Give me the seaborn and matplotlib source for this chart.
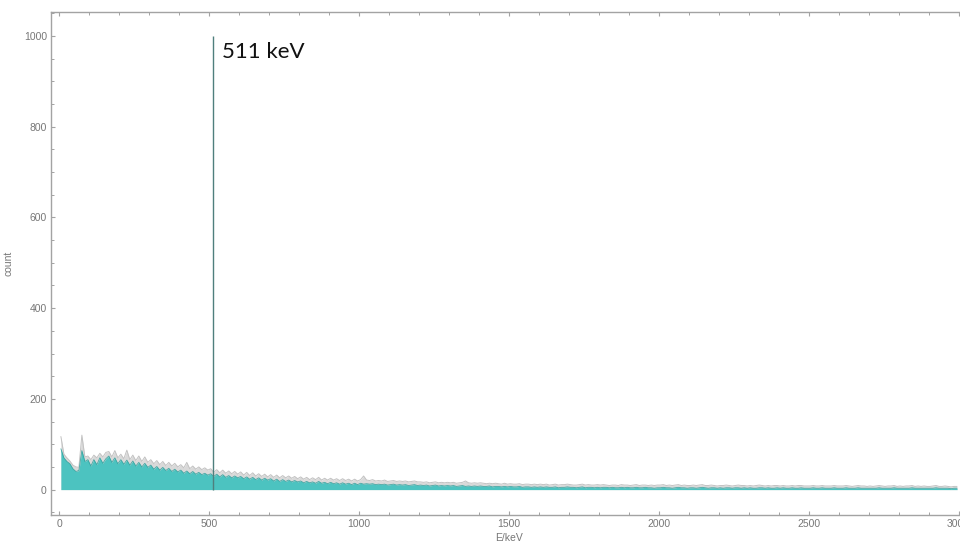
import numpy as np
import pandas as pd
import matplotlib
matplotlib.use("Agg")
import matplotlib.pyplot as plt
import seaborn as sns

# Spectrum binned in 10 keV channels, starting at 0 keV
bin_width = 10

# net counts (filled area)
net_counts = [
    90, 70, 62, 57, 46, 40, 42, 86, 62, 66,
    52, 66, 55, 70, 58, 68, 74, 60, 70, 57,
    66, 56, 65, 54, 63, 52, 60, 50, 58, 49,
    54, 45, 51, 43, 49, 42, 47, 40, 45, 39,
    43, 36, 41, 35, 40, 34, 38, 33, 36, 32,
    35, 29, 34, 28, 33, 27, 31, 26, 30, 26,
    29, 24, 28, 23, 27, 22, 26, 21, 25, 21,
    24, 19, 23, 18, 22, 18, 21, 17, 20, 17,
    19, 15, 18, 15, 17, 14, 18, 14, 16, 13,
    16, 13, 15, 12, 15, 12, 14, 11, 14, 11,
    14, 12, 13, 12, 13, 11, 12, 11, 12, 10,
    11, 12, 10, 11, 10, 11, 9, 10, 11, 9,
    10, 9, 10, 8, 9, 10, 8, 9, 8, 9,
    8, 9, 7, 8, 9, 7, 8, 7, 8, 7,
    8, 7, 7, 8, 6, 7, 7, 6, 7, 6,
    7, 6, 6, 7, 5, 6, 6, 5, 6, 5,
    6, 5, 6, 5, 5, 6, 4, 5, 5, 6,
    5, 5, 4, 5, 6, 4, 5, 5, 4, 5,
    4, 5, 5, 4, 5, 4, 4, 5, 4, 5,
    4, 4, 5, 4, 4, 5, 4, 4, 3, 4,
    4, 5, 4, 4, 3, 4, 5, 4, 4, 3,
    4, 4, 3, 4, 5, 4, 3, 4, 4, 3,
    4, 3, 4, 4, 3, 4, 4, 3, 4, 3,
    4, 3, 3, 4, 4, 3, 4, 3, 3, 4,
    3, 4, 3, 3, 4, 3, 3, 4, 3, 3,
    3, 4, 3, 3, 4, 3, 3, 3, 4, 3,
    3, 3, 4, 3, 3, 3, 4, 3, 3, 3,
    3, 3, 3, 4, 3, 3, 3, 3, 4, 3,
    3, 3, 3, 3, 4, 3, 3, 3, 3, 3,
    3, 3, 4, 3, 3, 3, 3, 2, 3, 3,
]

# raw counts (light grey envelope)
raw_counts = [
    117, 78, 70, 63, 54, 50, 49, 120, 72, 74,
    66, 76, 70, 80, 72, 82, 84, 72, 86, 70,
    78, 68, 87, 66, 76, 64, 74, 62, 72, 60,
    66, 57, 64, 55, 62, 53, 60, 52, 58, 50,
    55, 48, 60, 46, 52, 45, 50, 44, 48, 43,
    46, 38, 44, 37, 43, 36, 41, 35, 40, 34,
    39, 32, 38, 31, 37, 30, 35, 29, 34, 28,
    33, 27, 32, 26, 31, 26, 30, 25, 29, 24,
    28, 23, 27, 22, 26, 22, 27, 21, 25, 21,
    25, 21, 24, 20, 24, 20, 23, 19, 23, 19,
    22, 30, 21, 20, 22, 19, 20, 19, 21, 18,
    19, 20, 18, 19, 18, 19, 17, 18, 19, 17,
    17, 16, 17, 15, 16, 17, 15, 16, 15, 16,
    15, 16, 14, 15, 16, 19, 15, 14, 15, 14,
    15, 14, 13, 14, 13, 14, 13, 12, 14, 12,
    13, 12, 12, 13, 11, 12, 12, 11, 12, 11,
    12, 11, 12, 10, 11, 12, 10, 11, 11, 12,
    11, 10, 10, 11, 12, 10, 11, 10, 10, 11,
    10, 11, 10, 9, 10, 10, 9, 11, 10, 10,
    9, 10, 11, 9, 10, 10, 9, 10, 9, 10,
    10, 11, 9, 10, 9, 10, 11, 9, 10, 9,
    9, 10, 9, 10, 11, 9, 9, 10, 9, 8,
    9, 9, 10, 9, 8, 9, 10, 9, 9, 8,
    9, 8, 9, 10, 9, 8, 9, 8, 9, 9,
    8, 9, 8, 8, 9, 8, 9, 9, 8, 8,
    8, 9, 8, 8, 9, 8, 8, 8, 9, 8,
    8, 8, 9, 8, 7, 8, 9, 8, 8, 7,
    8, 7, 8, 9, 8, 7, 8, 8, 9, 7,
    8, 7, 8, 8, 9, 7, 8, 7, 8, 7,
    7, 8, 9, 7, 7, 8, 7, 6, 7, 7,
]

# annihilation line
peak_energy = 511
peak_count = 1000

x_ticks = [0, 500, 1000, 1500, 2000, 2500, 3000]
y_ticks = [0, 200, 400, 600, 800, 1000]

# channel centres
energy = np.arange(len(net_counts)) * bin_width + bin_width / 2
spec = pd.DataFrame({"E": energy, "net": net_counts, "raw": raw_counts})

sns.set_theme(style="white")
plt.rcParams["font.family"] = ["Liberation Sans", "DejaVu Sans"]

fig = plt.figure(figsize=(9.6, 5.45), dpi=100)
ax = fig.add_axes([51 / 960, 30 / 545, 915 / 960, 503 / 545])

teal = "#4cc3c0"
teal_dark = "#2f9f9b"
grey = "#d9d9d9"

ax.fill_between(spec["E"], spec["raw"], color=grey, lw=0)
sns.lineplot(data=spec, x="E", y="raw", color="#c2c2c2", lw=0.7, ax=ax)
ax.fill_between(spec["E"], spec["net"], color=teal, lw=0)
sns.lineplot(data=spec, x="E", y="net", color=teal_dark, lw=0.6,
             alpha=0.85, ax=ax)

ax.vlines(peak_energy, 0, peak_count, color="#4f7f7d", lw=1.0)
ax.text(peak_energy + 31, peak_count - 48, f"{peak_energy} keV",
        fontsize=16, family=["Lato", "DejaVu Sans"], color="#111111",
        va="baseline", ha="left")

ax.set_xlim(-28, 3025)
ax.set_ylim(-56, 1053)

ax.set_xticks(x_ticks)
ax.set_yticks(y_ticks)
ax.set_xticks(np.arange(0, 3001, 100), minor=True)
ax.set_yticks(np.arange(-50, 1051, 50), minor=True)

frame = "#a3a3a3"
label_col = "#777777"
for side, sp in ax.spines.items():
    sp.set_color(frame)
    sp.set_linewidth(1.0)
ax.tick_params(which="both", direction="in", colors=frame,
               labelcolor=label_col, labelsize=7.5,
               top=True, bottom=True, left=True, right=True)
ax.tick_params(which="major", length=3.2, width=0.8, pad=3)
ax.tick_params(which="minor", length=2.0, width=0.7)

ax.set_xlabel("E/keV", fontsize=7.5, color=label_col, labelpad=3)
ax.set_ylabel("count", fontsize=7.5, color=label_col, labelpad=7)

fig.savefig("out.png", dpi=100)
